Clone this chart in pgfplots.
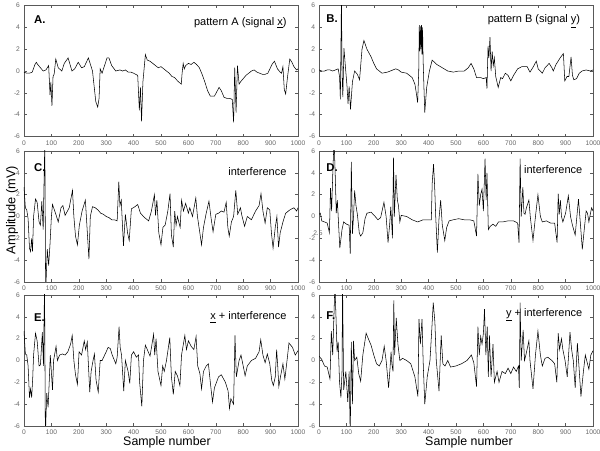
\documentclass[border=0pt]{standalone}
\usepackage{pgfplots}
\pgfplotsset{compat=1.18}
\usepackage{fontspec}
\setmainfont{Liberation Sans}
\definecolor{frame}{gray}{0.35}
\definecolor{tlab}{gray}{0.4}
\pgfplotsset{panel/.style={
  width=205.5pt,height=98.25pt,scale only axis,
  anchor=south west,
  xmin=0,xmax=1000,ymin=-6,ymax=6,
  xtick={0,100,...,1000}, ytick={-6,-4,...,6},
  tick align=inside, major tick length=2pt,
  axis line style={frame, line width=0.5pt},
  tick style={frame, line width=0.4pt},
  ticklabel style={font=\fontsize{5}{6}\selectfont, text=tlab},
  xticklabel style={yshift=0.5pt},
  yticklabel style={xshift=0.5pt},
  /pgf/number format/assume math mode=true,
  /pgf/number format/1000 sep={},
  clip mode=individual,
  cycle list={{black, line width=0.6pt, line join=round, mark=none}},
}}
\newcommand{\lab}[1]{{\fontsize{8.5}{9}\selectfont\bfseries #1}}
\newcommand{\ttl}[1]{{\fontsize{8.25}{9}\selectfont #1}}
\begin{document}
\begin{tikzpicture}
\useasboundingbox (0,0) rectangle (450pt,337.5pt);
% A
\begin{axis}[panel, at={(18pt,235.1pt)}]
\addplot coordinates {(0,-0.1)(10,-0.2)(20,-0.2)(30,-0.1)(40,0.6)(45,0.8)(50,0.6)(60,0.3)(70,0.0)(80,0.1)(90,0.5)(95,-2.2)(98,-1.0)(102,-3.2)(106,-0.5)(110,-0.3)(116,1.1)(125,0.3)(138,0.0)(147,0.7)(161,1.2)(175,0.0)(185,0.2)(198,0.8)(210,0.3)(220,0.4)(235,1.2)(250,0.0)(262,-2.8)(269,-3.3)(274,-2.5)(278,0.2)(285,-0.2)(303,1.2)(310,1.2)(320,0.5)(335,0.0)(350,0.1)(360,0.0)(370,0.1)(380,-0.1)(390,-0.1)(400,-0.2)(415,-0.4)(421,-3.6)(425,-1.5)(429,-4.6)(434,-1.0)(443,1.5)(450,1.0)(460,0.9)(470,0.7)(480,0.5)(490,0.3)(500,0.4)(510,0.2)(520,0.0)(530,-0.2)(540,-0.5)(550,-0.6)(560,-0.9)(574,-1.2)(577,-0.2)(581,0.7)(585,0.2)(590,0.5)(600,0.7)(610,0.6)(620,0.8)(630,0.6)(640,0.3)(650,-0.3)(660,-1.0)(670,-1.8)(680,-2.3)(695,-2.3)(712,-1.5)(720,-1.8)(730,-2.4)(740,-2.5)(750,-2.5)(760,-2.6)(765,-4.7)(769,0.3)(774,-3.8)(779,0.5)(785,-1.2)(790,-1.0)(800,-0.7)(810,-0.4)(820,-0.2)(830,0.0)(840,0.1)(850,-0.1)(860,-0.2)(870,-0.3)(880,-0.3)(890,-0.2)(905,0.6)(914,0.9)(925,0.2)(935,-0.1)(940,-0.2)(945,0.4)(950,-1.7)(955,-2.1)(962,-0.5)(970,1.1)(978,0.8)(985,0.4)(995,0.1)(1000,0.2)};
\node[anchor=west] at (rel axis cs:0.02,0.89) {\lab{A.}};
\node[anchor=east] at (rel axis cs:0.975,0.87) {\ttl{pattern A (signal \underline{x})}};
\end{axis}
% B
\begin{axis}[panel, at={(239.25pt,235.1pt)}]
\addplot coordinates {(0,0.1)(10,0.0)(20,0.0)(30,0.1)(40,0.1)(50,0.0)(60,0.1)(70,0.2)(75,-0.5)(78,-2.6)(82,7)(84,0.0)(87,-2.4)(91,2.1)(97,0.2)(102,-1.3)(106,-3.0)(110,-1.4)(115,-3.5)(122,-1.0)(130,0.0)(140,-0.3)(148,-0.8)(157,2.0)(164,2.8)(175,2.0)(190,1.3)(200,0.7)(210,0.2)(220,0.0)(230,-0.2)(250,-0.1)(270,0.1)(280,0.2)(290,0.1)(300,-0.1)(320,-0.2)(330,-0.4)(340,-0.6)(350,-1.2)(355,-2.0)(360,-2.9)(364,0.0)(366,4.2)(368,1.8)(370,4.1)(372,2.0)(374,4.2)(376,1.5)(378,4.0)(380,1.0)(383,-1.5)(386,-3.8)(393,-1.5)(403,0.0)(413,1.0)(430,0.6)(450,0.3)(470,0.0)(490,-0.1)(510,0.0)(530,0.0)(545,0.3)(555,0.7)(565,0.2)(575,-0.6)(590,-0.6)(600,-0.7)(610,-0.6)(613,-1.6)(617,2.3)(620,1.2)(624,3.1)(628,0.0)(632,1.8)(636,0.5)(640,1.2)(645,-0.5)(654,-1.5)(663,-0.6)(670,-0.7)(680,-0.2)(690,-0.4)(700,-0.9)(710,-0.4)(725,0.2)(740,0.4)(760,0.4)(770,-0.1)(780,0.3)(793,0.9)(800,0.2)(815,-0.2)(825,0.3)(840,0.7)(850,0.3)(855,0.0)(865,0.6)(880,1.2)(892,1.6)(897,-0.9)(905,-0.5)(912,-0.5)(920,1.3)(925,-0.4)(930,-0.8)(940,-0.7)(950,-0.2)(960,0.0)(975,0.1)(990,0.0)(1000,0.1)};
\node[anchor=west] at (rel axis cs:0.01,0.9) {\lab{B.}};
\node[anchor=east] at (rel axis cs:0.97,0.88) {\ttl{pattern B (signal \underline{y})}};
\end{axis}
% C
\begin{axis}[panel, at={(18pt,126pt)}]
\addplot coordinates {(0,2.7)(5,0.8)(10,0.6)(15,-0.2)(20,-2.9)(24,-3.2)(28,-2.0)(31,-3.2)(35,0.0)(42,1.6)(48,1.3)(55,-0.5)(60,-0.8)(65,1.4)(70,-1.2)(76,7)(79,-7)(85,-3.0)(90,-4.5)(95,-2.5)(100,0.0)(104,1.1)(115,0.3)(125,-0.5)(135,0.8)(142,1.0)(150,0.1)(165,0.8)(177,2.4)(182,0.0)(188,-1.8)(195,-2.6)(202,-0.8)(212,0.5)(224,1.5)(230,-1.0)(237,-3.9)(242,0.0)(250,0.9)(260,0.8)(270,0.6)(280,0.3)(290,0.2)(300,0.0)(310,-0.1)(320,-0.3)(330,-0.3)(340,-0.4)(346,3.2)(350,1.0)(355,1.5)(363,-2.7)(370,0.2)(378,-1.5)(384,-2.2)(392,0.7)(405,0.9)(415,1.1)(425,0.3)(440,-0.1)(455,-0.4)(465,0.5)(476,2.0)(480,0.1)(485,1.5)(492,-1.5)(500,-2.6)(507,-1.0)(515,-0.8)(525,0.5)(533,2.1)(538,-1.7)(545,-2.8)(550,0.5)(555,-0.8)(560,0.0)(570,-1.0)(575,1.5)(582,0.5)(590,1.2)(600,0.3)(605,0.8)(615,0.0)(627,1.7)(633,0.0)(640,-1.2)(648,-2.6)(655,-1.0)(665,0.3)(675,1.4)(682,0.0)(690,-1.4)(700,0.2)(710,0.3)(720,0.5)(730,0.4)(738,1.3)(744,-1.0)(749,-1.8)(757,-0.5)(765,0.0)(773,2.4)(780,0.2)(790,0.8)(795,0.1)(805,-0.9)(815,0.0)(830,-0.3)(845,0.5)(858,1.0)(865,2.1)(872,0.5)(880,-0.6)(888,0.8)(897,0.6)(903,-1.5)(909,-2.9)(917,-1.0)(923,0.0)(929,-2.8)(935,-1.5)(945,-0.5)(955,0.3)(970,0.6)(985,0.8)(995,0.5)(1000,0.8)};
\node[anchor=west] at (rel axis cs:0.02,0.87) {\lab{C.}};
\node[anchor=east] at (rel axis cs:0.975,0.84) {\ttl{interference}};
\end{axis}
% D
\begin{axis}[panel, at={(239.25pt,126pt)}]
\addplot coordinates {(0,0.2)(5,0.3)(10,-0.4)(20,-0.5)(30,-0.6)(38,-1.5)(42,2.6)(46,0.5)(51,4.5)(55,7)(59,4.0)(63,0.3)(67,1.5)(72,-1.0)(76,-2.9)(84,-1.2)(90,-0.5)(100,-0.7)(110,-0.8)(114,-3.4)(118,5.0)(122,-1.6)(126,0.0)(130,2.4)(135,1.0)(140,0.2)(147,-1.5)(152,-1.8)(160,-1.5)(168,-0.2)(175,0.3)(190,0.4)(205,0.0)(215,-0.3)(225,-0.1)(237,1.3)(245,0.0)(252,-2.4)(258,-0.7)(262,0.9)(265,-0.5)(268,-2.0)(272,5.4)(275,0.0)(281,3.8)(286,1.5)(290,1.0)(295,-0.5)(300,0.1)(320,0.0)(340,-0.3)(360,-0.5)(380,-0.3)(400,-0.3)(410,-0.3)(413,3.0)(418,4.8)(422,2.8)(426,0.0)(432,-3.3)(438,-0.2)(444,1.5)(450,-0.8)(459,-2.2)(466,-1.0)(475,-0.4)(490,-0.3)(510,-0.2)(530,-0.3)(550,-0.3)(565,-0.4)(575,-1.8)(580,3.9)(585,1.0)(590,2.0)(595,2.5)(600,0.5)(606,5.3)(610,1.5)(613,4.0)(618,-1.2)(625,-0.9)(635,-0.7)(645,-0.9)(655,-0.5)(670,-0.5)(690,-0.4)(710,-0.4)(725,-0.6)(730,-2.4)(734,5.3)(738,0.0)(744,2.7)(748,0.3)(752,0.2)(757,0.8)(766,1.5)(771,0.0)(781,-2.2)(790,0.0)(799,2.0)(808,0.0)(815,-0.5)(830,-0.4)(845,-0.6)(860,-0.6)(869,-2.4)(873,2.1)(877,0.2)(881,1.5)(885,0.0)(890,-0.5)(900,0.3)(910,1.9)(918,0.0)(925,-0.8)(935,-1.7)(947,1.6)(955,-1.0)(961,-3.0)(968,-1.2)(975,0.5)(980,0.3)(985,-0.5)(990,0.2)(995,0.8)(1000,0.5)};
\node[anchor=west] at (rel axis cs:0.01,0.87) {\lab{D.}};
\node[anchor=east] at (rel axis cs:0.978,0.86) {\ttl{interference}};
\node[font=\fontsize{5}{6}\selectfont, text=tlab] at (axis cs:-4,-1.5) {2.5};
\end{axis}
% E
\begin{axis}[panel, at={(18pt,18pt)}]
\addplot coordinates {(0,2.7)(5,0.6)(10,0.5)(15,-0.5)(20,-3.4)(24,-2.6)(28,-3.4)(32,-1.5)(35,0.5)(42,2.5)(48,1.8)(55,-0.5)(60,-0.4)(67,2.6)(71,-0.5)(75,7)(78,-7)(83,-3.0)(88,-4.3)(92,-2.0)(96,0.5)(104,-2.7)(108,0.0)(117,1.3)(122,0.0)(130,0.5)(140,0.6)(150,0.5)(160,0.8)(170,1.5)(176,2.3)(182,0.0)(188,-1.3)(195,-2.2)(201,0.8)(210,0.5)(220,1.8)(225,1.0)(231,1.7)(240,-2.9)(245,-1.0)(252,0.0)(257,0.6)(263,-1.8)(271,-2.9)(278,0.0)(285,0.0)(300,0.8)(307,1.2)(315,1.1)(322,0.5)(335,-0.3)(340,0.3)(347,3.1)(351,1.2)(356,0.5)(364,-2.8)(370,0.0)(380,-1.0)(386,-2.1)(392,0.5)(400,0.8)(410,0.3)(418,0.5)(422,-2.0)(430,-4.2)(436,0.0)(443,1.4)(450,1.0)(460,0.4)(473,2.4)(477,0.5)(482,2.0)(489,-1.0)(500,-2.3)(506,-0.5)(512,-1.0)(520,0.0)(532,2.1)(538,-1.5)(545,-3.1)(552,-1.0)(560,-1.4)(569,-2.3)(575,0.5)(587,2.3)(593,1.0)(600,1.8)(610,1.3)(620,1.0)(628,2.2)(634,-0.5)(642,-1.2)(648,-2.6)(655,-1.0)(665,-0.5)(673,-0.3)(680,-2.0)(688,-3.8)(695,-2.5)(710,-1.5)(720,-1.3)(735,-2.0)(745,-2.8)(750,-4.4)(755,-3.5)(765,-4.0)(770,2.3)(775,-1.5)(785,0.0)(792,0.5)(800,-0.5)(807,-1.4)(815,-0.5)(830,0.0)(845,0.2)(858,0.8)(864,1.9)(872,0.5)(880,-0.2)(888,0.6)(897,-0.3)(904,-1.8)(910,-2.3)(917,-1.5)(922,1.0)(926,-0.5)(930,-2.4)(936,-1.5)(945,-0.3)(952,-1.7)(960,0.0)(967,1.6)(980,1.2)(990,0.5)(1000,0.9)};
\node[anchor=west] at (rel axis cs:0.02,0.83) {\lab{E.}};
\node[anchor=east] at (rel axis cs:0.975,0.83) {\ttl{\underline{x} + interference}};
\end{axis}
% F
\begin{axis}[panel, at={(239.25pt,18pt)}]
\addplot coordinates {(0,0.4)(10,0.1)(20,-0.5)(30,-0.6)(40,-1.7)(45,2.7)(50,0.5)(55,4.5)(58,7)(62,4.0)(66,0.8)(70,1.7)(75,-2.0)(80,-3.4)(84,-1.0)(86,7)(90,-2.7)(98,-1.0)(105,-3.8)(110,-1.0)(114,-7)(118,1.7)(122,-4.0)(126,1.8)(130,0.0)(138,0.3)(145,-1.2)(152,-1.9)(160,0.5)(172,2.5)(180,2.0)(190,1.4)(200,0.5)(210,-0.3)(220,-0.5)(230,0.0)(238,1.3)(245,0.0)(254,-2.5)(259,-0.8)(263,0.8)(266,-0.3)(270,-1.0)(273,5.5)(276,0.5)(282,3.9)(288,1.5)(295,0.0)(305,0.2)(320,0.0)(335,-0.3)(350,-1.5)(361,-3.3)(365,3.8)(370,1.5)(376,3.8)(380,0.0)(386,-4.0)(395,-1.5)(405,0.0)(412,3.0)(417,5.3)(423,3.5)(428,0.0)(438,-2.8)(446,2.3)(452,-0.3)(460,-0.5)(470,0.0)(480,-0.6)(500,-0.5)(520,-0.3)(540,0.0)(556,0.5)(565,-0.2)(575,-2.4)(580,3.1)(585,0.5)(590,2.2)(595,1.5)(600,2.5)(604,4.7)(609,0.5)(614,3.1)(618,-1.5)(622,2.3)(628,-1.5)(635,1.5)(640,-2.0)(650,-1.0)(657,-2.0)(668,-1.0)(680,-1.2)(690,-0.7)(700,-1.2)(710,-0.6)(720,-1.0)(728,-0.5)(731,-2.5)(734,5.3)(738,0.0)(745,2.8)(750,0.0)(755,0.5)(766,1.8)(770,0.0)(781,-2.6)(790,0.5)(799,2.7)(808,0.5)(815,-0.5)(825,0.2)(835,0.3)(850,0.0)(860,-0.3)(868,-2.0)(873,2.5)(878,1.0)(885,2.0)(890,1.0)(898,0.0)(906,-1.5)(916,2.6)(922,1.0)(928,0.0)(935,-2.5)(943,1.6)(950,-1.0)(956,-3.3)(965,-1.0)(972,0.5)(980,-0.3)(985,-0.8)(992,0.5)(1000,0.9)};
\node[anchor=west] at (rel axis cs:0.01,0.84) {\lab{F.}};
\node[anchor=east] at (rel axis cs:0.978,0.85) {\ttl{\underline{y} + interference}};
\end{axis}
\node[rotate=90, font=\fontsize{9.6}{11}\selectfont] at (9pt,180pt) {Amplitude (mV)};
\node[font=\fontsize{9.3}{11}\selectfont] at (125.25pt,5.6pt) {Sample number};
\node[font=\fontsize{9.3}{11}\selectfont] at (351.75pt,5.6pt) {Sample number};
\end{tikzpicture}
\end{document}
